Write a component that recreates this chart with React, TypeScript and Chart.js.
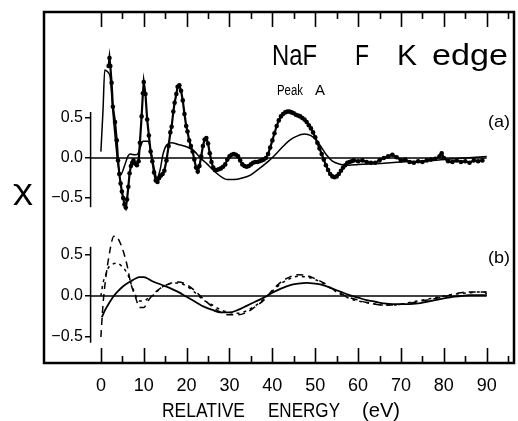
import { useEffect, useRef } from 'react';
import { Chart, registerables } from 'chart.js';

Chart.register(...registerables);

// ---- axis ticks ----
const energyTicks = [0, 10, 20, 30, 40, 50, 60, 70, 80, 90];
const energyMinorTicks = [5, 15, 25, 35, 45, 55, 65, 75, 85, 95];
const chiTicks = [-0.5, 0, 0.5];

// ---- panel (a): experiment (dots) ----
const expEnergy = [
  1.8, 2.0, 2.2, 2.5, 2.8, 3.3, 3.7, 4.0, 4.3, 4.6,
  4.9, 5.2, 5.5, 5.8, 6.1, 6.4, 6.7, 7.0, 7.3, 7.6,
  8.0, 8.4, 8.8, 9.1, 9.5, 9.8, 10.0, 10.4, 10.8, 11.2,
  11.6, 12.0, 12.4, 12.8, 13.2, 13.6, 14.0, 14.4, 14.8, 15.3,
  15.8, 16.2, 16.5, 16.9, 17.2, 17.6, 17.9, 18.3, 18.7, 19.1,
  19.5, 19.9, 20.2, 20.6, 21.0, 21.4, 21.8, 22.2, 22.6, 23.0,
  23.4, 23.8, 24.2, 24.6, 25.0, 25.4, 25.8, 26.2, 26.6, 27.0,
  27.5, 28, 28.5, 29, 29.5, 30, 30.5, 31, 31.5, 32,
  32.5, 33, 33.5, 34, 34.5, 35, 35.5, 36, 36.5, 37,
  37.5, 38, 38.5, 39, 39.5, 40, 40.5, 41, 41.5, 42,
  42.5, 43, 43.5, 44, 44.5, 45, 45.5, 46, 46.5, 47,
  47.5, 48, 48.5, 49, 49.5, 50, 50.5, 51, 51.5, 52,
  52.5, 53, 53.5, 54, 54.5, 55, 55.5, 56, 56.5, 57,
  57.5, 58, 58.5, 59, 60, 61, 62, 63, 64, 65,
  66, 67, 68, 69, 70, 71, 72, 73, 74, 75,
  76, 77, 78, 79, 79.5, 80, 81, 82, 83, 84,
  85, 86, 87, 88, 89,
];
const expChi = [
  1.15, 1.25, 1.15, 0.94, 0.64, 0.45, 0.22, -0.03, -0.2, -0.32,
  -0.42, -0.5, -0.58, -0.62, -0.52, -0.36, -0.19, -0.1, -0.06, -0.03,
  -0.07, -0.09, -0.04, 0.19, 0.52, 0.81, 0.95, 0.8, 0.48, 0.28,
  0.08, -0.04, -0.18, -0.28, -0.3, -0.25, -0.22, -0.2, -0.16, -0.03,
  0.15, 0.32, 0.39, 0.58, 0.69, 0.8, 0.89, 0.91, 0.84, 0.72,
  0.55, 0.4, 0.33, 0.22, 0.15, 0.08, -0.02, -0.12, -0.17, -0.1,
  0.02, 0.15, 0.23, 0.25, 0.18, 0.06, -0.05, -0.12, -0.15, -0.15,
  -0.14, -0.13, -0.11, -0.08, -0.02, 0.02, 0.04, 0.05, 0.04, 0.02,
  -0.03, -0.08, -0.1, -0.11, -0.1, -0.08, -0.06, -0.05, -0.05, -0.04,
  -0.03, -0.02, 0.0, 0.05, 0.13, 0.22, 0.31, 0.4, 0.47, 0.52,
  0.55, 0.57, 0.58, 0.58, 0.57, 0.56, 0.54, 0.53, 0.52, 0.5,
  0.48, 0.45, 0.41, 0.37, 0.32, 0.26, 0.19, 0.12, 0.05, -0.02,
  -0.09, -0.15, -0.2, -0.23, -0.24, -0.23, -0.2, -0.16, -0.12, -0.09,
  -0.06, -0.05, -0.04, -0.03, -0.04, -0.03, -0.05, -0.06, -0.06, -0.03,
  0.0, 0.02, 0.04, 0.01, -0.03, -0.02, -0.05, -0.06, -0.04, -0.05,
  -0.03, -0.02, -0.01, 0.02, 0.06, 0.0, -0.04, -0.05, -0.03, -0.05,
  -0.04, -0.06, -0.03, -0.04, -0.03,
];

// ---- panel (a): theory (thin line) ----
const theoryEnergy = [
  0, 0.5, 0.9, 1.3, 1.7, 2.2, 2.6, 3.0, 3.4, 4.0,
  4.6, 5.5, 6.3, 6.8, 8.0, 8.6, 9.3, 9.8, 11.0, 11.8,
  12.5, 13.1, 13.8, 14.5, 15.3, 16.5, 18, 20, 21.9, 23.2,
  24.7, 26, 27, 28.2, 29.5, 31, 33, 35, 37, 39.3,
  41, 42.4, 44, 45.6, 47.5, 49, 50.3, 51.5, 52.6, 54,
  56, 58, 60, 65, 70, 75, 80, 85, 90,
];
const theoryChi = [
  0.08, 0.6, 1.1, 1.09, 1.07, 1.0, 0.72, 0.45, 0.22, -0.08,
  -0.21, -0.1, 0.02, 0.05, 0.04, 0.05, 0.15, 0.21, 0.21, 0.05,
  -0.15, -0.25, -0.15, 0.05, 0.16, 0.19, 0.17, 0.14, 0.08, 0.0,
  -0.07, -0.14, -0.19, -0.24, -0.27, -0.27, -0.25, -0.21, -0.13, -0.03,
  0.06, 0.14, 0.22, 0.27, 0.30, 0.28, 0.22, 0.13, 0.04, -0.04,
  -0.08, -0.09, -0.08, -0.07, -0.05, -0.04, -0.02, 0.0, 0.02,
];

// ---- panel (b) ----
const solidEnergy = [
  0.2, 1, 2, 3, 4, 5, 6, 7, 8, 9,
  10, 11, 12, 14, 16, 18, 20, 22, 24, 26,
  28, 30, 32, 34, 36, 38, 40, 42, 44, 46,
  48, 50, 52, 54, 56, 58, 60, 62, 64, 66,
  68, 70, 72, 74, 76, 78, 80, 82, 84, 86,
  88, 90,
];
const solidChi = [
  -0.26, -0.17, -0.08, 0.0, 0.06, 0.11, 0.15, 0.18, 0.21, 0.23,
  0.23, 0.21, 0.18, 0.14, 0.1, 0.05, -0.01, -0.07, -0.13, -0.17,
  -0.2, -0.2, -0.17, -0.12, -0.07, -0.02, 0.04, 0.09, 0.13, 0.15,
  0.16, 0.15, 0.13, 0.09, 0.05, 0.01, -0.02, -0.05, -0.07, -0.09,
  -0.1, -0.1, -0.1, -0.09, -0.07, -0.05, -0.03, -0.01, 0.0, 0.01,
  0.01, 0.01,
];
const longDashEnergy = [
  0, 0.5, 1, 1.5, 2, 2.5, 3, 3.5, 4, 5,
  6, 7, 8, 9, 10, 11, 12, 13, 14, 16,
  18, 20, 22, 24, 26, 28, 30, 32, 34, 36,
  38, 40, 42, 44, 46, 48, 50, 52, 54, 56,
  58, 60, 62, 64, 66, 68, 70, 72, 74, 76,
  78, 80, 82, 84, 86, 88, 89.5, 90,
];
const longDashChi = [
  -0.5, -0.1, 0.16, 0.36, 0.52, 0.66, 0.73, 0.73, 0.7, 0.58,
  0.4, 0.15, 0.0, -0.14, -0.14, -0.06, 0.01, 0.06, 0.1, 0.15,
  0.17, 0.14, 0.06, -0.04, -0.13, -0.2, -0.23, -0.23, -0.2, -0.13,
  -0.05, 0.07, 0.17, 0.23, 0.26, 0.25, 0.21, 0.16, 0.09, 0.03,
  -0.02, -0.05, -0.08, -0.1, -0.11, -0.11, -0.1, -0.09, -0.07, -0.05,
  -0.03, -0.01, 0.02, 0.04, 0.05, 0.05, 0.05, 0.02,
];
const shortDashEnergy = [
  0, 0.5, 1, 1.7, 2.5, 3.7, 5.1, 6.3, 7.2, 8,
  9, 10, 11, 12, 13, 14, 16, 18, 20, 22,
  24, 26, 28, 30, 32, 34, 36, 38, 40, 42,
  44, 46, 48, 50, 52, 54, 56, 58, 60, 62,
  64, 66, 68, 70, 72, 74, 76, 78, 80, 82,
  84, 86, 88, 90,
];
const shortDashChi = [
  0.0, 0.16, 0.24, 0.34, 0.38, 0.4, 0.35, 0.26, 0.13, 0.02,
  -0.06, -0.06, -0.03, 0.0, 0.05, 0.1, 0.15, 0.16, 0.12, 0.04,
  -0.05, -0.11, -0.17, -0.2, -0.21, -0.18, -0.12, -0.04, 0.06, 0.15,
  0.21, 0.24, 0.23, 0.2, 0.15, 0.08, 0.02, -0.03, -0.06, -0.08,
  -0.1, -0.11, -0.11, -0.1, -0.08, -0.06, -0.04, -0.02, 0.0, 0.02,
  0.03, 0.04, 0.05, 0.05,
];

// reference lines (zero baseline and the short inner y-axis spines)
const axisEnergy = -2.4;
const labelEnergy = -4.2;
const zeroLineEnergy = [axisEnergy, 90];
const zeroLineChi = [0, 0];
const spineChiA = [0.575, -0.615];
const spineChiB = [0.6, -0.57];

const FONT = '"Liberation Sans", Arial, sans-serif';

const pts = (xs: number[], ys: number[]) => xs.map((x, i) => ({ x, y: ys[i] }));

function fitText(ctx: CanvasRenderingContext2D, text: string, x: number, y: number, size: number, width?: number) {
  ctx.save();
  ctx.font = `${size}px ${FONT}`;
  ctx.textBaseline = 'alphabetic';
  ctx.textAlign = 'left';
  const w = ctx.measureText(text).width;
  ctx.translate(x, y);
  if (width) ctx.scale(width / w, 1);
  ctx.fillStyle = '#000';
  ctx.fillText(text, 0, 0);
  ctx.restore();
}

const framePlugin = {
  id: 'frameAndText',
  afterDraw(chart: any) {
    const { ctx, chartArea } = chart;
    const xs = chart.scales.x;
    ctx.save();
    ctx.strokeStyle = '#000';
    ctx.lineWidth = 2.5;
    ctx.strokeRect(chartArea.left, chartArea.top, chartArea.right - chartArea.left, chartArea.bottom - chartArea.top);
    ctx.lineWidth = 1.6;
    ctx.beginPath();
    const mark = (v: number, len: number) => {
      const px = Math.round(xs.getPixelForValue(v)) + 0.5;
      ctx.moveTo(px, chartArea.bottom);
      ctx.lineTo(px, chartArea.bottom - len);
      ctx.moveTo(px, chartArea.top);
      ctx.lineTo(px, chartArea.top + len);
    };
    energyTicks.forEach((v) => mark(v, 15));
    energyMinorTicks.forEach((v) => mark(v, 7));
    ctx.stroke();
    ctx.restore();

    // title and annotations
    fitText(ctx, 'NaF', 272, 65, 30, 45);
    fitText(ctx, 'F', 355, 65, 30, 14);
    fitText(ctx, 'K', 397, 65, 30, 20);
    fitText(ctx, 'edge', 432, 65, 30, 76);
    fitText(ctx, 'Peak', 277, 95, 14, 26);
    fitText(ctx, 'A', 315, 95, 14, 10);
    fitText(ctx, '(a)', 488, 127, 17, 22);
    fitText(ctx, '(b)', 488, 263, 17, 22);
    // axis titles
    fitText(ctx, 'RELATIVE', 162, 417, 21, 83);
    fitText(ctx, 'ENERGY', 268, 417, 21, 72);
    fitText(ctx, '(eV)', 362, 417, 21, 38);
    fitText(ctx, 'χ', 13, 199, 28, 20);
  },
};

const fmtChi = (v: any) => {
  const n = Number(v);
  const s = Math.abs(n).toFixed(1);
  return n < 0 ? '\u2212' + s : s;
};

const setChiTicks = (s: any) => {
  s.ticks = chiTicks.map((v) => ({ value: v }));
};

// tick marks on the inner spine
const yMarks = (min: number, max: number) => ({
  type: 'linear' as const,
  min,
  max,
  position: { x: axisEnergy },
  afterBuildTicks: setChiTicks,
  grid: { display: true, drawOnChartArea: false, drawTicks: true, tickLength: 6, color: '#000', lineWidth: 1.5 },
  border: { display: false },
  ticks: { display: false },
});

// tick labels just left of the marks
const yLabels = (min: number, max: number) => ({
  type: 'linear' as const,
  min,
  max,
  position: { x: labelEnergy },
  afterBuildTicks: setChiTicks,
  grid: { display: false, drawTicks: false },
  border: { display: false },
  ticks: { color: '#000', font: { family: FONT, size: 16 }, padding: 0, autoSkip: false, callback: fmtChi },
});

export default function App() {
  const ref = useRef<HTMLCanvasElement | null>(null);
  useEffect(() => {
    if (!ref.current) return;
    const thin = { borderColor: '#000', pointRadius: 0, showLine: true, fill: false, cubicInterpolationMode: 'monotone' as const };
    const chart = new Chart(ref.current, {
      type: 'scatter',
      data: {
        datasets: [
          { ...thin, data: pts(zeroLineEnergy, zeroLineChi), yAxisID: 'ya', borderWidth: 1.5 },
          { ...thin, data: pts([axisEnergy, axisEnergy], spineChiA), yAxisID: 'ya', borderWidth: 1.5 },
          { ...thin, data: pts(theoryEnergy, theoryChi), yAxisID: 'ya', borderWidth: 1.5 },
          {
            data: pts(expEnergy, expChi), yAxisID: 'ya', showLine: true, borderColor: '#000', borderWidth: 2.2,
            pointRadius: 2.3, pointBackgroundColor: '#000', pointBorderWidth: 0, tension: 0,
          },
          { ...thin, data: pts(zeroLineEnergy, zeroLineChi), yAxisID: 'yb', borderWidth: 1.5 },
          { ...thin, data: pts([axisEnergy, axisEnergy], spineChiB), yAxisID: 'yb', borderWidth: 1.5 },
          { ...thin, data: pts(solidEnergy, solidChi), yAxisID: 'yb', borderWidth: 1.8 },
          { ...thin, data: pts(longDashEnergy, longDashChi), yAxisID: 'yb', borderWidth: 1.5, borderDash: [7, 5] },
          { ...thin, data: pts(shortDashEnergy, shortDashChi), yAxisID: 'yb', borderWidth: 1.5, borderDash: [3, 4] },
        ],
      },
      options: {
        responsive: false,
        animation: false,
        devicePixelRatio: 1,
        layout: { padding: { left: 44, top: 12, right: 3, bottom: 0 } },
        plugins: { legend: { display: false }, tooltip: { enabled: false } },
        scales: {
          x: {
            type: 'linear',
            min: -13.27,
            max: 96.37,
            position: 'bottom',
            afterBuildTicks: (s: any) => {
              s.ticks = energyTicks.map((v) => ({ value: v }));
            },
            afterFit: (s: any) => {
              s.height = 58;
            },
            grid: { display: false, drawTicks: false },
            border: { display: false },
            ticks: { color: '#000', font: { family: FONT, size: 18 }, padding: 12, maxRotation: 0, autoSkip: false, callback: (v: any) => String(v) },
          },
          ya: yMarks(-2.5625, 1.825),
          yaLabels: yLabels(-2.5625, 1.825),
          yb: yMarks(-0.817, 3.4634),
          ybLabels: yLabels(-0.817, 3.4634),
        },
      },
      plugins: [framePlugin],
    } as any);
    return () => chart.destroy();
  }, []);
  return (
    <div style={{ position: 'absolute', left: 0, top: 0, width: 518, height: 421, background: '#fff' }}>
      <canvas ref={ref} width={518} height={421} style={{ display: 'block' }} />
    </div>
  );
}
